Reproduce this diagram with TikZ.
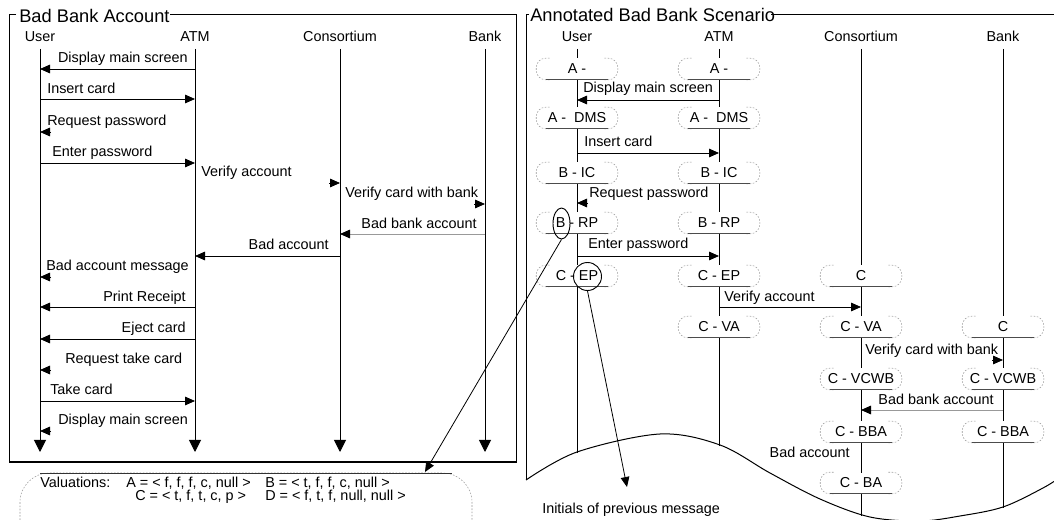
\documentclass[tikz,border=0pt]{standalone}
\usepackage{fontspec}
\setmainfont{Liberation Sans}
\usetikzlibrary{arrows.meta,shapes.geometric}
\tikzset{
  msg/.style={line width=0.6pt, -{Triangle[length=7.5pt,width=6.5pt]}},
  graymsg/.style={line width=0.6pt, draw=black!40, -{Triangle[length=7.5pt,width=6.5pt,color=black]}},
  life/.style={line width=0.75pt, -{Triangle[length=9pt,width=9pt]}},
  lline/.style={line width=0.75pt},
  frame/.style={line width=0.75pt},
  lbl/.style={inner sep=0pt, anchor=base west},
  lblr/.style={inner sep=0pt, anchor=base east},
  actor/.style={inner sep=0pt, anchor=base},
  ttl/.style={inner sep=0pt, anchor=base west, font=\fontsize{13.7pt}{16pt}\selectfont},
  stnode/.style={inner sep=0pt, minimum width=60.75pt, minimum height=15.75pt, fill=white},
  stdash/.style={draw=black!40, line width=0.4pt, dash pattern=on 1.2pt off 1.2pt},
  stsolid/.style={draw=black!70, line width=0.5pt},
  ringmark/.style={draw, line width=0.7pt, inner sep=0pt},
}
\newcommand\mystbox[4]{%
  \node[stnode] (#1) at (#2,#3) {#4};
  \draw[stdash, rounded corners=7pt] ([xshift=10pt]#1.north west) -- (#1.north west) -- (#1.south west) -- ([xshift=10pt]#1.south west);
  \draw[stdash, rounded corners=7pt] ([xshift=-10pt]#1.north east) -- (#1.north east) -- (#1.south east) -- ([xshift=-10pt]#1.south east);
  \draw[stsolid] ([xshift=7pt]#1.south west) -- ([xshift=-7pt]#1.south east);
}
\begin{document}
\begin{tikzpicture}[x=0.75pt,y=-0.75pt,font=\fontsize{10.8pt}{13pt}\selectfont]
\useasboundingbox (0,0) rectangle (1054,520);
\clip (0,0) rectangle (1054,520);

% ================= LEFT PANEL =================
\draw[frame] (16,15) -- (9,15) -- (9,462) -- (516,462) -- (516,15) -- (170,15);
\node[ttl] (ttlL) at (19,22.5) {Bad Bank Account};

\node[actor] (LU) at (40,42) {User};
\node[actor] (LA) at (195,42) {ATM};
\node[actor] (LC) at (340,42) {Consortium};
\node[actor] (LB) at (485,42) {Bank};
\coordinate (LUt) at (40,49);  \coordinate (LUb) at (40,452);
\coordinate (LAt) at (195,49); \coordinate (LAb) at (195,452);
\coordinate (LCt) at (340,49); \coordinate (LCb) at (340,452);
\coordinate (LBt) at (485,49); \coordinate (LBb) at (485,452);
\draw[life] (LUt) -- (LUb);
\draw[life] (LAt) -- (LAb);
\draw[life] (LCt) -- (LCb);
\draw[life] (LBt) -- (LBb);

\draw[msg] (195,69) -- (40,69);   \node[lblr] (m1) at (188,63) {Display main screen};
\draw[msg] (40,99) -- (195,99);   \node[lbl] (m2) at (47,94) {Insert card};
\draw[msg] (51,132) -- (40,132);  \node[lbl] (m3) at (47,126) {Request password};
\draw[msg] (40,163) -- (195,163); \node[lbl] (m4) at (52,157) {Enter password};
\draw[msg] (329,183) -- (340,183); \node[lbl] (m5) at (201,177) {Verify account};
\draw[msg] (474,204) -- (485,204); \node[lbl] (m6) at (345,198) {Verify card with bank};
\draw[graymsg] (485,234) -- (340,234); \node[lblr] (m7) at (477,229) {Bad bank account};
\draw[msg] (340,256) -- (195,256); \node[lblr] (m8) at (329,250) {Bad account};
\draw[msg] (51,277) -- (40,277);  \node[lbl] (m9) at (46,271) {Bad account message};
\draw[msg] (195,307) -- (40,307); \node[lblr] (m10) at (186,302) {Print Receipt};
\draw[msg] (195,339) -- (40,339); \node[lblr] (m11) at (186,333) {Eject card};
\draw[msg] (51,370) -- (40,370);  \node[lbl] (m12) at (65,364) {Request take card};
\draw[msg] (40,401) -- (195,401); \node[lbl] (m13) at (50,395) {Take card};
\draw[msg] (51,431) -- (40,431);  \node[lbl] (m14) at (58,425) {Display main screen};

% valuations box
\draw[stdash, rounded corners=22pt] (20,473) rectangle (472,560);
\draw[stsolid, draw=black!80] (40,473) -- (452,473);
\node[lbl] (vl) at (40,488) {Valuations:};
\node[lbl] (vA) at (126,488) {A = < f, f, f, c, null >};
\node[lbl] (vB) at (265,488) {B = < t, f, f, c, null >};
\node[lbl] (vC) at (135,500.5) {C = < t, f, t, c, p >};
\node[lbl] (vD) at (265,500.5) {D = < f, t, f, null, null >};
\coordinate (valtip) at (425,472);

% ================= RIGHT PANEL =================
\draw[frame] (529,15) -- (526,15) -- (526,480);
\draw[frame] (771,15) -- (1056,15);
\node[ttl] (ttlR) at (530,22) {Annotated Bad Bank Scenario};

\node[actor] (RU) at (577,42) {User};
\node[actor] (RA) at (719,42) {ATM};
\node[actor] (RC) at (861,42) {Consortium};
\node[actor] (RB) at (1003,42) {Bank};
\draw[lline] (577,49) -- (577,453);
\draw[lline] (719,49) -- (719,446);
\draw[lline] (861,49) -- (861,516);
\draw[lline] (1003,49) -- (1003,508);

% messages
\draw[msg] (719,100) -- (577,100); \node[lbl] (r1) at (583,93) {Display main screen};
\draw[msg] (577,153) -- (719,153); \node[lbl] (r2) at (584,147) {Insert card};
\draw[msg] (588,203) -- (577,203); \node[lbl] (r3) at (589,198) {Request password};
\draw[msg] (577,256) -- (719,256); \node[lbl] (r4) at (588,249) {Enter password};
\draw[msg] (719,307) -- (861,307); \node[lbl] (r5) at (724,302) {Verify account};
\draw[msg] (992,360) -- (1003,360); \node[lbl] (r6) at (865,355) {Verify card with bank};
\draw[graymsg] (1003,410) -- (861,410); \node[lblr] (r7) at (994,405) {Bad bank account};
\node[lblr] (r8) at (850,457) {Bad account};

% state boxes
\mystbox{uA}{577}{69}{A -}
\mystbox{aA}{719}{69}{A -}
\mystbox{uDMS}{577}{118}{A -~ DMS}
\mystbox{aDMS}{719}{118}{A -~ DMS}
\mystbox{uIC}{577}{173}{B - IC}
\mystbox{aIC}{719}{173}{B - IC}
\mystbox{uRP}{577}{223}{B - RP}
\mystbox{aRP}{719}{223}{B - RP}
\mystbox{uEP}{577}{276}{C - EP}
\mystbox{aEP}{719}{276}{C - EP}
\mystbox{cC}{861}{276}{C}
\mystbox{aVA}{719}{327}{C - VA}
\mystbox{cVA}{861}{327}{C - VA}
\mystbox{bC}{1003}{327}{C}
\mystbox{cVCWB}{861}{379}{C - VCWB}
\mystbox{bVCWB}{1003}{379}{C - VCWB}
\mystbox{cBBA}{861}{432}{C - BBA}
\mystbox{bBBA}{1003}{432}{C - BBA}
\mystbox{cBA}{861}{483}{C - BA}

% torn edge
\draw[lline] plot[smooth, tension=0.55] coordinates {(526,480) (577,452) (660,434) (720,445) (770,473) (820,499) (870,517) (920,521) (960,516) (1003,507) (1043,488) (1062,476)};

% annotations
\node[ringmark, ellipse, minimum width=12.75pt, minimum height=23.25pt] (eB) at (561.5,223.5) {};
\node[ringmark, circle, minimum size=21pt] (cEP) at (587.5,276.5) {};
\coordinate (inittip) at (627,487);
\node[lbl] (init) at (542,513) {Initials of previous message};
\draw[msg] (eB.south) -- (valtip);
\draw[msg] (cEP.south) -- (inittip);
\end{tikzpicture}
\end{document}
